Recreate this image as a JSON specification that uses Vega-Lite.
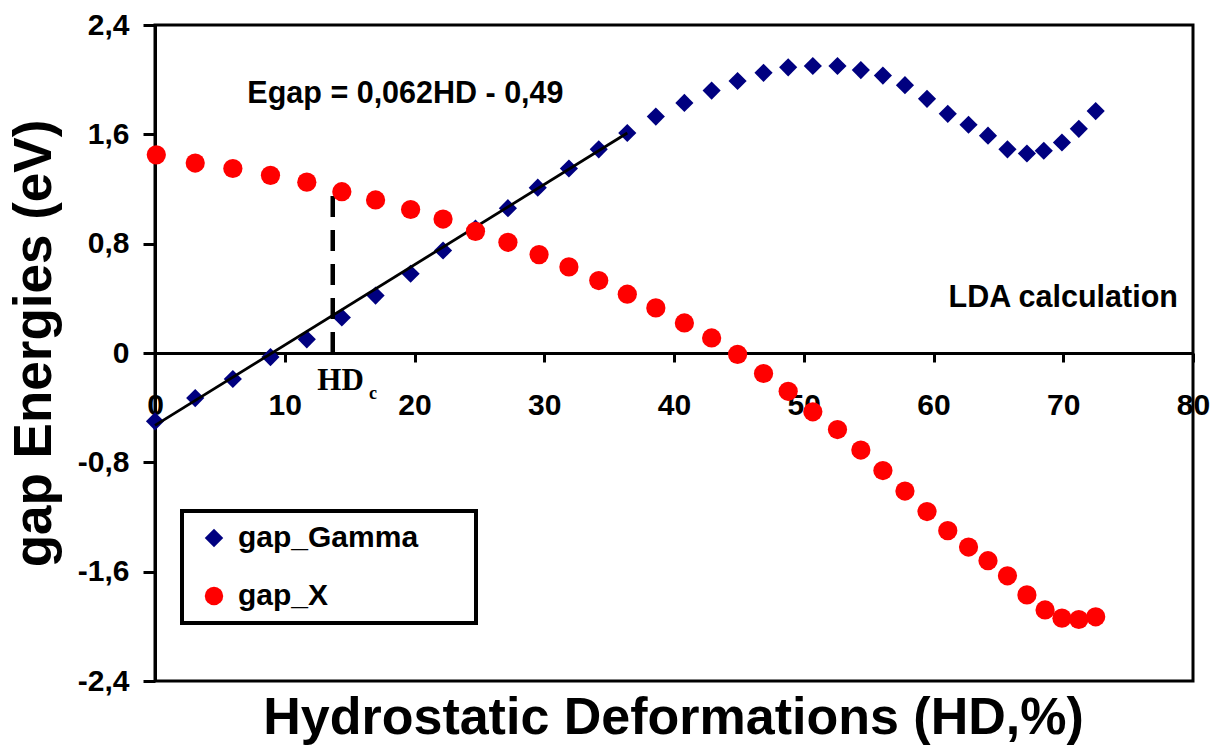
{
  "$schema": "https://vega.github.io/schema/vega-lite/v6.json",
  "autosize": {"type": "none"},
  "width": 1038,
  "height": 656,
  "padding": {"left": 155, "top": 25, "right": 30, "bottom": 67},
  "background": "white",
  "config": {
    "view": {"stroke": "black", "strokeWidth": 3},
    "font": "Liberation Sans",
    "axis": {"grid": false},
    "legend": {"strokeWidth": 4}
  },
  "data": {
    "values": [
      {"series": "gap_Gamma", "HD": 0.0, "E": -0.50},
      {"series": "gap_Gamma", "HD": 3.1, "E": -0.33},
      {"series": "gap_Gamma", "HD": 6.0, "E": -0.19},
      {"series": "gap_Gamma", "HD": 8.9, "E": -0.03},
      {"series": "gap_Gamma", "HD": 11.7, "E": 0.10},
      {"series": "gap_Gamma", "HD": 14.4, "E": 0.26},
      {"series": "gap_Gamma", "HD": 17.0, "E": 0.42},
      {"series": "gap_Gamma", "HD": 19.7, "E": 0.58},
      {"series": "gap_Gamma", "HD": 22.2, "E": 0.75},
      {"series": "gap_Gamma", "HD": 24.7, "E": 0.91},
      {"series": "gap_Gamma", "HD": 27.2, "E": 1.06},
      {"series": "gap_Gamma", "HD": 29.5, "E": 1.21},
      {"series": "gap_Gamma", "HD": 31.9, "E": 1.35},
      {"series": "gap_Gamma", "HD": 34.2, "E": 1.49},
      {"series": "gap_Gamma", "HD": 36.4, "E": 1.61},
      {"series": "gap_Gamma", "HD": 38.6, "E": 1.73},
      {"series": "gap_Gamma", "HD": 40.8, "E": 1.83},
      {"series": "gap_Gamma", "HD": 42.9, "E": 1.92},
      {"series": "gap_Gamma", "HD": 44.9, "E": 1.99},
      {"series": "gap_Gamma", "HD": 46.9, "E": 2.05},
      {"series": "gap_Gamma", "HD": 48.8, "E": 2.09},
      {"series": "gap_Gamma", "HD": 50.7, "E": 2.10},
      {"series": "gap_Gamma", "HD": 52.6, "E": 2.10},
      {"series": "gap_Gamma", "HD": 54.4, "E": 2.07},
      {"series": "gap_Gamma", "HD": 56.1, "E": 2.03},
      {"series": "gap_Gamma", "HD": 57.8, "E": 1.96},
      {"series": "gap_Gamma", "HD": 59.5, "E": 1.86},
      {"series": "gap_Gamma", "HD": 61.1, "E": 1.75},
      {"series": "gap_Gamma", "HD": 62.7, "E": 1.67},
      {"series": "gap_Gamma", "HD": 64.2, "E": 1.59},
      {"series": "gap_Gamma", "HD": 65.7, "E": 1.49},
      {"series": "gap_Gamma", "HD": 67.2, "E": 1.46},
      {"series": "gap_Gamma", "HD": 68.5, "E": 1.48},
      {"series": "gap_Gamma", "HD": 69.9, "E": 1.54},
      {"series": "gap_Gamma", "HD": 71.2, "E": 1.64},
      {"series": "gap_Gamma", "HD": 72.5, "E": 1.77},
      {"series": "gap_X", "HD": 0.1, "E": 1.45},
      {"series": "gap_X", "HD": 3.1, "E": 1.39},
      {"series": "gap_X", "HD": 6.0, "E": 1.35},
      {"series": "gap_X", "HD": 8.9, "E": 1.30},
      {"series": "gap_X", "HD": 11.7, "E": 1.25},
      {"series": "gap_X", "HD": 14.4, "E": 1.18},
      {"series": "gap_X", "HD": 17.0, "E": 1.12},
      {"series": "gap_X", "HD": 19.7, "E": 1.05},
      {"series": "gap_X", "HD": 22.2, "E": 0.98},
      {"series": "gap_X", "HD": 24.7, "E": 0.89},
      {"series": "gap_X", "HD": 27.2, "E": 0.81},
      {"series": "gap_X", "HD": 29.6, "E": 0.72},
      {"series": "gap_X", "HD": 31.9, "E": 0.63},
      {"series": "gap_X", "HD": 34.2, "E": 0.53},
      {"series": "gap_X", "HD": 36.4, "E": 0.43},
      {"series": "gap_X", "HD": 38.6, "E": 0.33},
      {"series": "gap_X", "HD": 40.8, "E": 0.22},
      {"series": "gap_X", "HD": 42.9, "E": 0.11},
      {"series": "gap_X", "HD": 44.9, "E": -0.01},
      {"series": "gap_X", "HD": 46.9, "E": -0.15},
      {"series": "gap_X", "HD": 48.8, "E": -0.28},
      {"series": "gap_X", "HD": 50.7, "E": -0.43},
      {"series": "gap_X", "HD": 52.6, "E": -0.56},
      {"series": "gap_X", "HD": 54.4, "E": -0.71},
      {"series": "gap_X", "HD": 56.1, "E": -0.86},
      {"series": "gap_X", "HD": 57.8, "E": -1.01},
      {"series": "gap_X", "HD": 59.5, "E": -1.16},
      {"series": "gap_X", "HD": 61.1, "E": -1.30},
      {"series": "gap_X", "HD": 62.7, "E": -1.42},
      {"series": "gap_X", "HD": 64.2, "E": -1.52},
      {"series": "gap_X", "HD": 65.7, "E": -1.63},
      {"series": "gap_X", "HD": 67.2, "E": -1.77},
      {"series": "gap_X", "HD": 68.6, "E": -1.88},
      {"series": "gap_X", "HD": 69.9, "E": -1.94},
      {"series": "gap_X", "HD": 71.2, "E": -1.95},
      {"series": "gap_X", "HD": 72.5, "E": -1.93}
    ]
  },
  "layer": [
    {
      "transform": [{"filter": "datum.series === 'gap_Gamma'"}],
      "mark": {"type": "point", "filled": true, "opacity": 1, "size": 330},
      "encoding": {
        "x": {
          "field": "HD", "type": "quantitative",
          "scale": {"domain": [0, 80], "nice": false, "zero": false},
          "axis": {
            "title": "Hydrostatic Deformations (HD,%)",
            "titleFont": "Liberation Sans", "titleFontSize": 52, "titleFontWeight": "bold", "titleColor": "black",
            "titleX": 518, "titleY": 380, "titleBaseline": "alphabetic", "titleAlign": "center",
            "offset": -328,
            "values": [0, 10, 20, 30, 40, 50, 60, 70, 80],
            "domainColor": "black", "domainWidth": 3,
            "tickColor": "black", "tickWidth": 3, "tickSize": 9,
            "labelFont": "Liberation Sans", "labelFontSize": 30, "labelFontWeight": "bold", "labelColor": "black",
            "labelPadding": 28, "labelFlush": false, "labelOverlap": false
          }
        },
        "y": {
          "field": "E", "type": "quantitative",
          "scale": {"domain": [-2.4, 2.4], "nice": false, "zero": false},
          "axis": {
            "title": "gap Energies (eV)",
            "titleFont": "Liberation Sans", "titleFontSize": 53, "titleFontWeight": "bold", "titleColor": "black",
            "titleAngle": 270, "titleX": -105, "titleY": 318, "titleBaseline": "alphabetic", "titleAlign": "center",
            "values": [-2.4, -1.6, -0.8, 0, 0.8, 1.6, 2.4],
            "labelExpr": "replace('' + datum.value, '.', ',')",
            "domainColor": "black", "domainWidth": 3,
            "tickColor": "black", "tickWidth": 3, "tickSize": 12,
            "labelFont": "Liberation Sans", "labelFontSize": 30, "labelFontWeight": "bold", "labelColor": "black",
            "labelPadding": 14, "labelOverlap": false
          }
        },
        "color": {
          "field": "series", "type": "nominal",
          "scale": {"domain": ["gap_Gamma", "gap_X"], "range": ["#000080", "#FF0000"]},
          "legend": {
            "orient": "none", "legendX": 27, "legendY": 486,
            "title": "\u00a0", "titleOrient": "right", "titlePadding": 46, "titleFontSize": 29,
            "strokeColor": "black", "fillColor": "white", "padding": 12,
            "symbolOffset": 5, "symbolSize": 340, "symbolStrokeWidth": 0,
            "labelFont": "Liberation Sans", "labelFontSize": 30, "labelFontWeight": "bold", "labelColor": "black",
            "labelOffset": 9, "labelLimit": 400, "rowPadding": 28
          }
        },
        "shape": {
          "field": "series", "type": "nominal",
          "scale": {"domain": ["gap_Gamma", "gap_X"], "range": ["diamond", "circle"]}
        }
      }
    },
    {
      "data": {"values": [{}]},
      "mark": {"type": "rule", "color": "black", "strokeWidth": 2.8},
      "encoding": {
        "x": {"datum": 0, "type": "quantitative"},
        "y": {"datum": -0.53, "type": "quantitative"},
        "x2": {"datum": 36.4},
        "y2": {"datum": 1.61}
      }
    },
    {
      "data": {"values": [{}]},
      "mark": {"type": "rule", "color": "black", "strokeWidth": 4.5, "strokeDash": [21, 13]},
      "encoding": {
        "x": {"datum": 13.7, "type": "quantitative"},
        "y": {"datum": 0, "type": "quantitative"},
        "y2": {"datum": 1.21}
      }
    },
    {
      "transform": [{"filter": "datum.series === 'gap_X'"}],
      "mark": {"type": "point", "filled": true, "opacity": 1, "size": 370},
      "encoding": {
        "x": {"field": "HD", "type": "quantitative"},
        "y": {"field": "E", "type": "quantitative"},
        "color": {"field": "series", "type": "nominal"},
        "shape": {"field": "series", "type": "nominal"}
      }
    },
    {
      "data": {"values": [{}]},
      "mark": {"type": "text", "text": "Egap = 0,062HD - 0,49", "font": "Liberation Sans", "fontSize": 30.5, "fontWeight": "bold", "color": "black", "align": "center", "baseline": "alphabetic"},
      "encoding": {
        "x": {"datum": 19.3, "type": "quantitative"},
        "y": {"datum": 1.83, "type": "quantitative"}
      }
    },
    {
      "data": {"values": [{}]},
      "mark": {"type": "text", "text": "LDA calculation", "font": "Liberation Sans", "fontSize": 30.5, "fontWeight": "bold", "color": "black", "align": "center", "baseline": "alphabetic"},
      "encoding": {
        "x": {"datum": 70.0, "type": "quantitative"},
        "y": {"datum": 0.336, "type": "quantitative"}
      }
    },
    {
      "data": {"values": [{}]},
      "mark": {"type": "text", "text": "HD", "font": "Liberation Serif", "fontSize": 31, "fontWeight": "bold", "color": "black", "align": "center", "baseline": "alphabetic"},
      "encoding": {
        "x": {"datum": 14.3, "type": "quantitative"},
        "y": {"datum": -0.27, "type": "quantitative"}
      }
    },
    {
      "data": {"values": [{}]},
      "mark": {"type": "text", "text": "c", "font": "Liberation Serif", "fontSize": 18, "fontWeight": "bold", "color": "black", "align": "left", "baseline": "alphabetic"},
      "encoding": {
        "x": {"datum": 16.5, "type": "quantitative"},
        "y": {"datum": -0.336, "type": "quantitative"}
      }
    }
  ]
}
